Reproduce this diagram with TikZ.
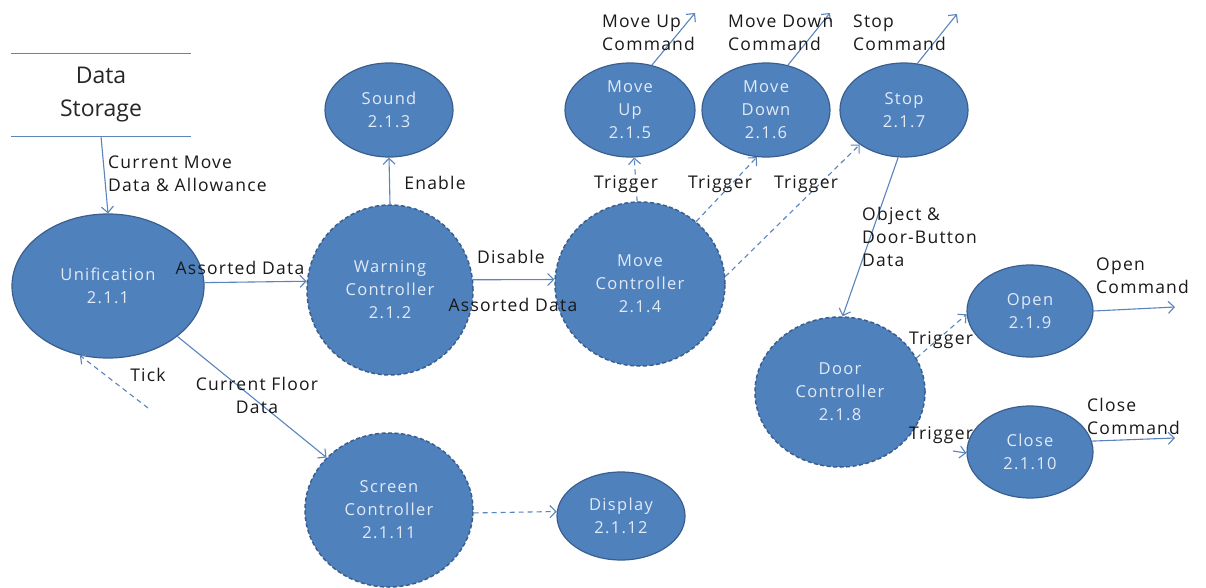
\documentclass[tikz,border=0pt]{standalone}
\usepackage{fontspec}
\setmainfont{Open Sans}
\newfontfamily\nodefontfam[LetterSpace=8]{Open Sans}
\newfontfamily\lblfontfam[LetterSpace=7]{Open Sans}
\usetikzlibrary{shapes.geometric,arrows.meta}
\definecolor{bfill}{HTML}{4F81BD}
\definecolor{bdraw}{HTML}{3A5F8F}
\definecolor{bline}{HTML}{5A84BE}
\definecolor{btext}{HTML}{E2EAF6}
\begin{document}
\begin{tikzpicture}[x=1pt,y=-1pt,
  proc/.style={ellipse, fill=bfill, draw=bdraw, line width=1.2pt, inner sep=0pt,
    text=btext, align=center, font={\nodefontfam\fontsize{16.5}{23}\selectfont}},
  ctrl/.style={proc, line width=1.5pt, dash pattern=on 4pt off 2.5pt},
  lbl/.style={inner sep=0pt, text=black!90, align=center,
    font={\lblfontfam\fontsize{17.5}{23}\selectfont}},
  flow/.style={draw=bline, line width=1.1pt, -{Straight Barb[length=6pt,width=12pt]}},
  dflow/.style={flow, dash pattern=on 5pt off 4pt},
  storeline/.style={draw=bline, line width=1.2pt}]
\useasboundingbox[fill=white] (0,0) rectangle (1206,588);

% data store
\node[font={\fontsize{23}{33}\selectfont}, text=black!85, align=center,
  minimum width=179pt, minimum height=82pt, inner sep=0pt] (ds) at (101,95) {Data\\Storage};
\draw[storeline] (ds.north west) -- (ds.north east);
\draw[storeline] (ds.south west) -- (ds.south east);

% processes
\node[proc, minimum width=192pt, minimum height=144pt] (uni) at (108,286) {Unification\\2.1.1};
\node[ctrl, minimum width=166pt, minimum height=170pt] (warn) at (390,290) {Warning\\Controller\\2.1.2};
\node[proc, minimum width=128pt, minimum height=94pt] (sound) at (389,110) {Sound\\2.1.3};
\node[ctrl, minimum width=170pt, minimum height=164pt] (move) at (640,284) {Move\\Controller\\2.1.4};
\node[proc, minimum width=130pt, minimum height=94pt] (mup) at (630,110) {Move\\Up\\2.1.5};
\node[proc, minimum width=128pt, minimum height=94pt] (mdown) at (766,110) {Move\\Down\\2.1.6};
\node[proc, minimum width=128pt, minimum height=94pt] (stop) at (904,110) {Stop\\2.1.7};
\node[ctrl, minimum width=170pt, minimum height=150pt] (door) at (840,392) {Door\\Controller\\2.1.8};
\node[proc, minimum width=126pt, minimum height=92pt] (open) at (1030,311) {Open\\2.1.9};
\node[proc, minimum width=126pt, minimum height=92pt] (close) at (1030,452) {Close\\2.1.10};
\node[ctrl, minimum width=168pt, minimum height=154pt] (scr) at (389,510) {Screen\\Controller\\2.1.11};
\node[proc, minimum width=128pt, minimum height=88pt] (disp) at (621,516) {Display\\2.1.12};

% free ends
\coordinate (tick0) at (148,408);
\coordinate (upout) at (695,13);
\coordinate (downout) at (830,13);
\coordinate (stopout) at (957,14);
\coordinate (cl0) at (953,451);
\coordinate (openout) at (1175,307);
\coordinate (closeout) at (1175,438);

% connectors
\draw[flow] (ds.south) -- (uni.north);
\draw[flow] (uni.2) -- (warn.174);
\draw[dflow] (tick0) -- (uni.248);
\draw[flow] (uni.324) -- (scr.140);
\draw[flow] (warn.north) -- (sound.south);
\draw[flow] (warn.7) -- (move.177);
\draw[dflow] (move.92) -- (mup.275);
\draw[dflow] (move.48) -- (mdown.259);
\draw[dflow] (move.5) -- (stop.218);
\draw[flow] (mup.64) -- (upout);
\draw[flow] (mdown.64) -- (downout);
\draw[flow] (stop.74) -- (stopout);
\draw[flow] (stop.263) -- (door.88);
\draw[dflow] (door.24) -- (open.183);
\draw[flow] (cl0) -- (close.181);
\draw[flow] (open.east) -- (openout);
\draw[flow] (close.10) -- (closeout);
\draw[dflow] (scr.-2) -- (disp.176);

% labels
\node[lbl, anchor=west, align=left] (l1) at (108,174) {Current Move\\Data \& Allowance};
\node[lbl] (l2) at (240,268) {Assorted Data};
\node[lbl] (l3) at (148,375) {Tick};
\node[lbl] (l4) at (257,395) {Current Floor\\Data};
\node[lbl] (l5) at (435,183) {Enable};
\node[lbl] (l6) at (511,257) {Disable};
\node[lbl] (l7) at (513,305) {Assorted Data};
\node[lbl] (l8) at (626,184) {Trigger};
\node[lbl] (l9) at (720,184) {Trigger};
\node[lbl] (l10) at (806,184) {Trigger};
\node[lbl, anchor=west, align=left] (l11) at (602,33) {Move Up\\Command};
\node[lbl, anchor=west, align=left] (l12) at (728,33) {Move Down\\Command};
\node[lbl, anchor=west, align=left] (l13) at (853,33) {Stop\\Command};
\node[lbl, anchor=west, align=left] (l14) at (862,237) {Object \&\\Door-Button\\Data};
\node[lbl] (l15) at (941,340) {Trigger};
\node[lbl] (l16) at (941,435) {Trigger};
\node[lbl, anchor=west, align=left] (l17) at (1096,276) {Open\\Command};
\node[lbl, anchor=west, align=left] (l18) at (1087,416) {Close\\Command};
\end{tikzpicture}
\end{document}
